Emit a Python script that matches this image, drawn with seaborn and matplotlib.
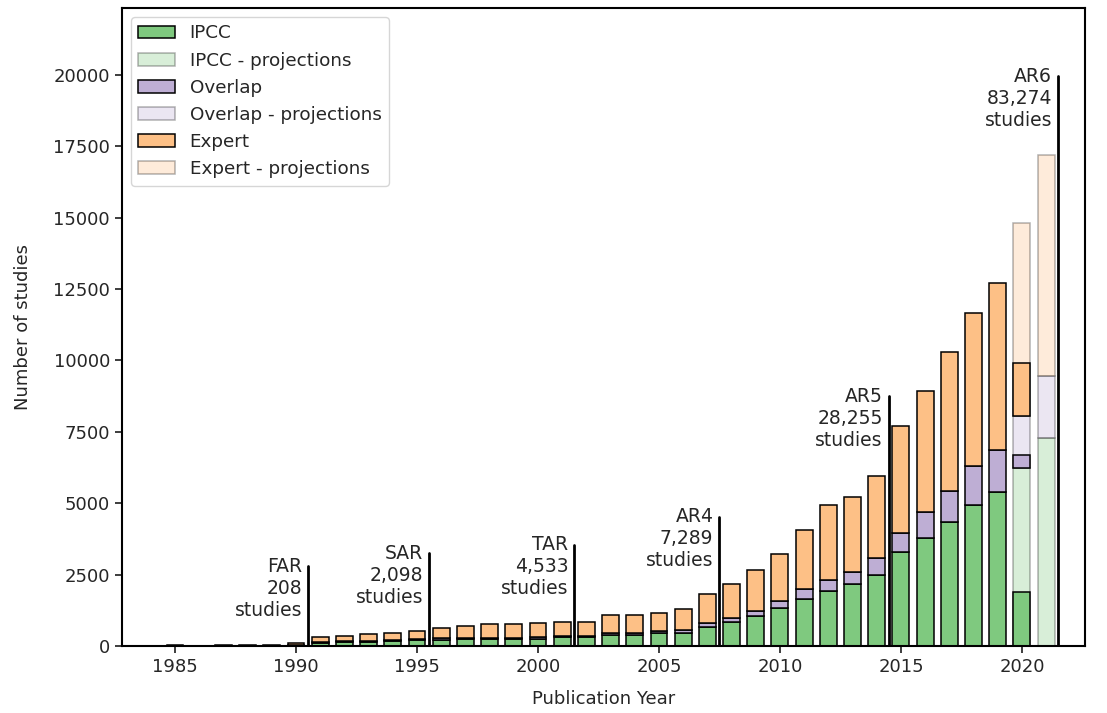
import matplotlib
matplotlib.use("Agg")
import matplotlib.pyplot as plt
import numpy as np
import seaborn as sns

# Studies per publication year (stacked: IPCC, overlap, expert)
years = np.arange(1985, 2021)
ipcc = [10, 5, 10, 15, 15, 40,
        120, 130, 140, 180, 220,
        210, 260, 240, 230, 250, 300,
        300, 390, 390, 440, 465, 650,
        850, 1060, 1320, 1640, 1940, 2175, 2490,
        3287, 3778, 4340, 4925, 5380, 1900]
overlap = [0, 0, 0, 0, 0, 5,
           30, 35, 40, 30, 30,
           55, 30, 50, 55, 50, 40,
           40, 80, 80, 85, 95, 160,
           140, 175, 270, 360, 360, 430, 585,
           667, 912, 1075, 1390, 1475, 445]
expert = [10, 5, 15, 15, 20, 43,
          155, 185, 240, 257, 287,
          355, 412, 481, 486, 518, 513,
          500, 623, 617, 644, 720, 1010,
          1190, 1430, 1630, 2070, 2650, 2605, 2885,
          3741, 4233, 4890, 5335, 5845, 1870]

# Projected totals for the unfinished AR6 cycle
proj_years = [2020, 2021]
ipcc_proj = [6250, 7280]
overlap_proj = [1790, 2185]
expert_proj = [6760, 7735]

# Assessment report cut-offs
report_names = ["FAR", "SAR", "TAR", "AR4", "AR5", "AR6"]
report_counts = ["208", "2,098", "4,533", "7,289", "28,255", "83,274"]
report_cutoffs = [1990.5, 1995.5, 2001.5, 2007.5, 2014.5, 2021.5]
line_tops = [2800, 3250, 3550, 4530, 8740, 19950]

sns.set_theme(style="ticks")
plt.rcParams["font.family"] = ["DejaVu Sans"]
pal = sns.color_palette("Accent", 3)

fig, ax = plt.subplots(figsize=(11.07, 7.13), dpi=100)
fig.subplots_adjust(left=0.110, right=0.980, bottom=0.094, top=0.989)

ipcc = np.array(ipcc, dtype=float)
overlap = np.array(overlap, dtype=float)
expert = np.array(expert, dtype=float)

# bottoms: normal stacking, except 2020 where actual counts sit on the projections
ov_bottom = ipcc.copy()
ex_bottom = ipcc + overlap
ov_bottom[-1] = ipcc_proj[0]
ex_bottom[-1] = ipcc_proj[0] + overlap_proj[0]

w = 0.7
bar_kw = dict(width=w, edgecolor="black", linewidth=1.1)
proj_kw = dict(width=w, edgecolor="black", linewidth=1.1, alpha=0.3)

ipcc_proj_a = np.array(ipcc_proj, dtype=float)
overlap_proj_a = np.array(overlap_proj, dtype=float)
h_ip = ax.bar(proj_years, ipcc_proj_a, color=pal[0], zorder=1, **proj_kw)
h_op = ax.bar(proj_years, overlap_proj_a, bottom=ipcc_proj_a, color=pal[1], zorder=1, **proj_kw)
h_ep = ax.bar(proj_years, expert_proj, bottom=ipcc_proj_a + overlap_proj_a,
              color=pal[2], zorder=1, **proj_kw)

h_i = ax.bar(years, ipcc, color=pal[0], zorder=2, **bar_kw)
h_o = ax.bar(years, overlap, bottom=ov_bottom, color=pal[1], zorder=2, **bar_kw)
h_e = ax.bar(years, expert, bottom=ex_bottom, color=pal[2], zorder=2, **bar_kw)

# report lines + labels
for name, cnt, xc, top in zip(report_names, report_counts, report_cutoffs, line_tops):
    ax.plot([xc, xc], [0, top], color="black", linewidth=2, zorder=3)
    ax.text(xc - 0.25, top + 330, f"{name}\n{cnt}\nstudies", ha="right", va="top",
            fontsize=13.5, color="0.15", linespacing=1.2)

ax.set_xlim(1982.8, 2022.6)
ax.set_ylim(0, 22350)
ax.set_xticks(np.arange(1985, 2021, 5))
ax.set_yticks(np.arange(0, 20001, 2500))
ax.tick_params(labelsize=13, direction="out", length=5)
ax.set_xlabel("Publication Year", fontsize=13, labelpad=10)
ax.set_ylabel("Number of studies", fontsize=13, labelpad=15)
for s in ax.spines.values():
    s.set_color("black")
    s.set_linewidth(1.5)

ax.legend([h_i, h_ip, h_o, h_op, h_e, h_ep],
          ["IPCC", "IPCC - projections", "Overlap", "Overlap - projections",
           "Expert", "Expert - projections"],
          loc="upper left", fontsize=13.2, frameon=True, fancybox=True,
          framealpha=0.8, edgecolor="0.8")

plt.savefig("out.png", dpi=100)
